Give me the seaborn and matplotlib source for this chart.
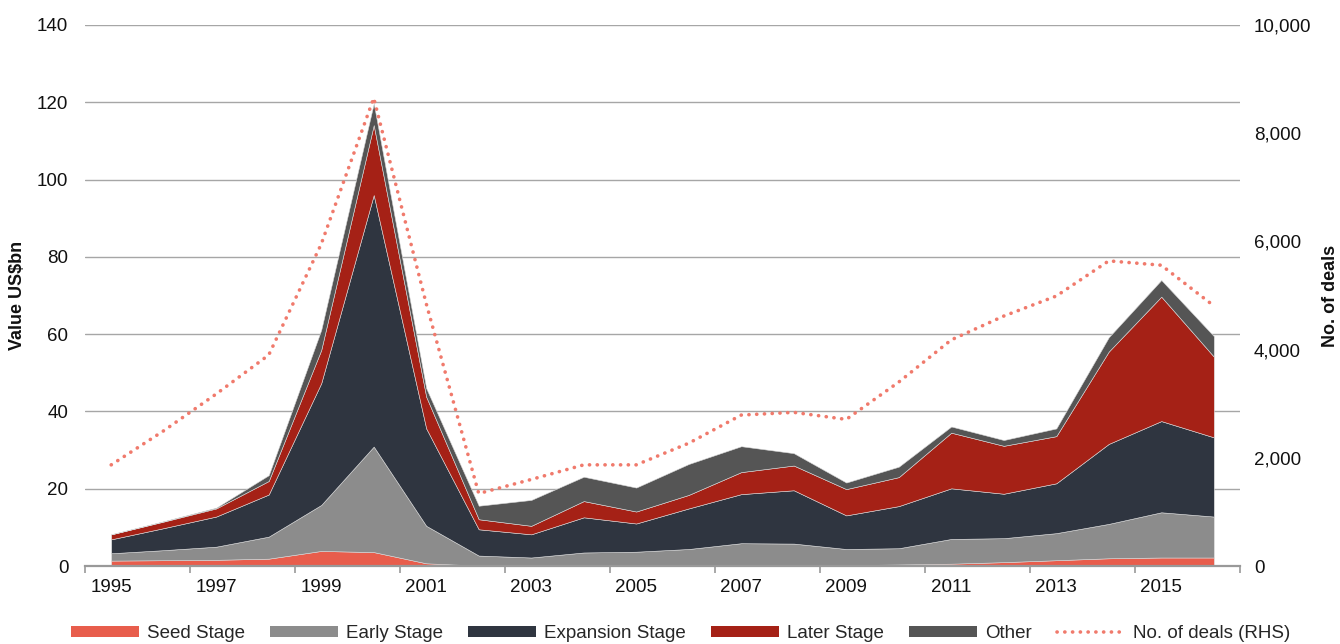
import numpy as np
import pandas as pd
import matplotlib
matplotlib.use("Agg")
import matplotlib.pyplot as plt
from matplotlib.ticker import FixedLocator, FuncFormatter
from matplotlib.patches import Patch
from matplotlib.lines import Line2D
import seaborn as sns

# ---- data -------------------------------------------------------------
years = list(range(1995, 2017))
seed = [1.4, 1.5, 1.6, 1.9, 3.9, 3.6, 0.7, 0.1, 0.05, 0.05, 0.05,
        0.05, 0.1, 0.1, 0.2, 0.4, 0.6, 1.0, 1.5, 2.0, 2.2, 2.2]
early = [1.9, 2.6, 3.4, 5.7, 11.9, 27.3, 9.7, 2.6, 2.15, 3.45, 3.65,
         4.35, 5.8, 5.7, 4.2, 4.2, 6.4, 6.2, 7.0, 8.9, 11.7, 10.6]
expansion = [3.6, 5.7, 7.8, 10.9, 31.5, 65.1, 25.2, 6.8, 6.0, 9.1, 7.3,
             10.5, 12.7, 13.8, 8.7, 10.9, 13.1, 11.5, 12.9, 20.7, 23.6, 20.5]
later = [1.3, 1.7, 2.1, 3.5, 8.6, 18.1, 8.2, 2.6, 2.2, 4.2, 3.1,
         3.5, 5.7, 6.4, 6.8, 7.5, 14.4, 12.4, 12.2, 23.9, 32.2, 20.9]
other = [0.0, 0.1, 0.2, 1.5, 5.2, 5.6, 2.2, 3.5, 6.7, 6.3, 6.2,
         8.0, 6.7, 3.2, 1.7, 2.7, 1.6, 1.5, 2.0, 3.7, 4.3, 5.3]
deals = [1870, 2500, 3180, 3900, 5950, 8650, 4850, 1340, 1600, 1870, 1870,
         2270, 2790, 2840, 2710, 3400, 4180, 4620, 4990, 5640, 5560, 4810]

series_names = ["Seed Stage", "Early Stage", "Expansion Stage", "Later Stage", "Other"]
series_colors = ["#E85D4C", "#8C8C8C", "#2F3540", "#A52116", "#555555"]
deals_color = "#F07A6C"

# ---- style ------------------------------------------------------------
sns.set_theme(style="white")
plt.rcParams["font.family"] = ["Liberation Sans", "DejaVu Sans"]

fig = plt.figure(figsize=(13.4, 6.44), dpi=100)
ax = fig.add_axes([0.0634, 0.1211, 0.862, 0.8401])

pos = np.arange(len(years))
ax.stackplot(pos, seed, early, expansion, later, other,
             colors=series_colors, edgecolor="#D9D9D9", linewidth=0.4,
             zorder=2)

ax.set_xlim(-0.5, len(years) - 0.5)
ax.set_ylim(0, 140)
ax.set_yticks(np.arange(0, 141, 20))
ax.yaxis.grid(True, color="#A6A6A6", linewidth=1.0, zorder=0)
ax.set_axisbelow(True)
ax.tick_params(axis="y", length=0, pad=12, labelsize=13.5, labelcolor="#111111")

# tick marks on category boundaries, labels on every other year
ax.xaxis.set_major_locator(FixedLocator(np.arange(-0.5, len(years), 2)))
ax.xaxis.set_major_formatter(FuncFormatter(lambda v, p: ""))
ax.xaxis.set_minor_locator(FixedLocator(pos[::2]))
ax.xaxis.set_minor_formatter(FuncFormatter(lambda v, p: str(years[int(round(v))])))
ax.tick_params(axis="x", which="major", length=5, width=1.2, color="#999999",
               direction="out", bottom=True)
ax.tick_params(axis="x", which="minor", length=0, pad=9, labelsize=13.5,
               labelcolor="#111111")

for s in ["top", "left", "right"]:
    ax.spines[s].set_visible(False)
ax.spines["bottom"].set_color("#999999")
ax.spines["bottom"].set_linewidth(1.6)

ax.set_ylabel("Value US$bn", fontsize=13, fontweight="bold", color="#111111")
ax.yaxis.set_label_coords(-0.051, 0.5)

# ---- number of deals on the right-hand axis ---------------------------
ax2 = ax.twinx()
deals_df = pd.DataFrame({"pos": pos, "deals": deals})
sns.lineplot(data=deals_df, x="pos", y="deals", ax=ax2, color=deals_color,
             linewidth=2.6, linestyle=(0, (0.05, 2.1)),
             solid_capstyle="round", dash_capstyle="round", zorder=3)
ax2.set_ylim(0, 10000)
ax2.set_yticks(np.arange(0, 10001, 2000))
ax2.yaxis.set_major_formatter(FuncFormatter(lambda v, p: f"{int(v):,}"))
ax2.tick_params(axis="y", length=0, pad=10, labelsize=13.5, labelcolor="#111111")
ax2.set_xlabel("")
ax2.set_ylabel("No. of deals", fontsize=13, fontweight="bold", color="#111111")
ax2.yaxis.set_label_coords(1.071, 0.5)
ax2.grid(False)
for s in ["top", "left", "right", "bottom"]:
    ax2.spines[s].set_visible(False)
ax2.set_xlim(-0.5, len(years) - 0.5)

# ---- legend -------------------------------------------------------------
handles = [Patch(facecolor=c, edgecolor="none", label=n)
           for n, c in zip(series_names, series_colors)]
handles.append(Line2D([0], [0], color=deals_color, linewidth=2.6,
                      linestyle=(0, (0.05, 2.1)), dash_capstyle="round",
                      label="No. of deals (RHS)"))
fig.legend(handles=handles, loc="center", bbox_to_anchor=(0.508, 0.016),
           ncol=6, frameon=False, fontsize=13.5, handlelength=3.6,
           handleheight=0.55, handletextpad=0.45, columnspacing=1.34,
           borderpad=0, borderaxespad=0)

fig.savefig("out.png", dpi=100)
